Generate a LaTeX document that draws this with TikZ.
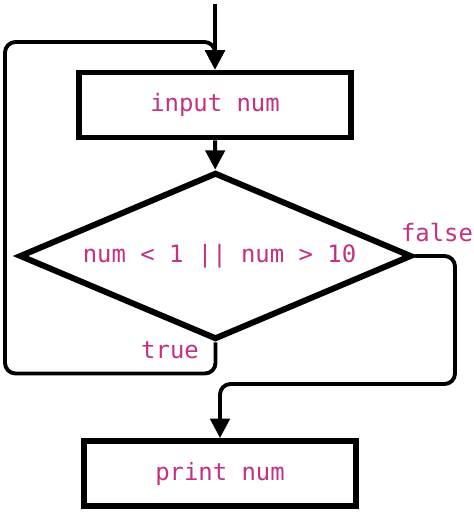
\documentclass[tikz,border=0pt]{standalone}
\usepackage{xcolor}
\usepackage{fontspec}
\setmonofont{DejaVu Sans Mono}
\usepackage{tikz}
\usetikzlibrary{shapes.geometric, arrows.meta, positioning, calc}
\definecolor{codepink}{RGB}{196, 48, 130}
\tikzstyle{process} = [
    rectangle, 
    minimum width=5.44cm, 
    minimum height=1.3cm, 
    text centered, 
    draw=black, 
    line width=3.4pt,
    text=codepink,
    font=\ttfamily\fontsize{13.6}{16}\selectfont
]
\tikzstyle{decision} = [
    diamond, 
    aspect=2.37, 
    inner sep=0pt,
    minimum width=7.85cm, 
    minimum height=3.34cm, 
    draw=black, 
    line width=3.4pt,
    text=codepink,
    font=\ttfamily\fontsize{13.6}{16}\selectfont
]
\tikzstyle{branch} = [
    text=codepink,
    font=\ttfamily\fontsize{13.6}{16}\selectfont
]
\tikzstyle{arrow} = [
    line width=2.2pt, 
    -{Triangle[length=11pt, width=11pt]}, 
    rounded corners=6pt,
    color=black
]

\begin{document}
\begin{tikzpicture}
        \useasboundingbox (0,0) rectangle (9.48,-10.26);
        % Entry point
        \coordinate (start) at (4.3,-0.08);
        
        % Read the number
        \node[process] (in) at (4.3,-2.1) {input num};
        
        % Range check
        \node[decision] (dec) at (4.31,-5.12) {\hspace*{0.16cm}num < 1 || num > 10};
        
        % Output
        \node[process] (out) at (4.4,-9.47) {print num};
        
        % Branch labels
        \node[branch] (lfalse) at (8.74,-4.66) {false};
        \node[branch] (ltrue) at (3.4,-7.0) {true};
        
        % Arrows
        \draw[arrow] (start) -- (in.north);
        \draw[arrow] (in) -- (dec);
        \draw[arrow] (dec.south) -- ++(0,-0.62) -| (0.1,-0.84) -| (in.north);
        \draw[arrow] (dec.east) -| (9.1,-7.68) -| (out.north);
    \end{tikzpicture}
\end{document}
